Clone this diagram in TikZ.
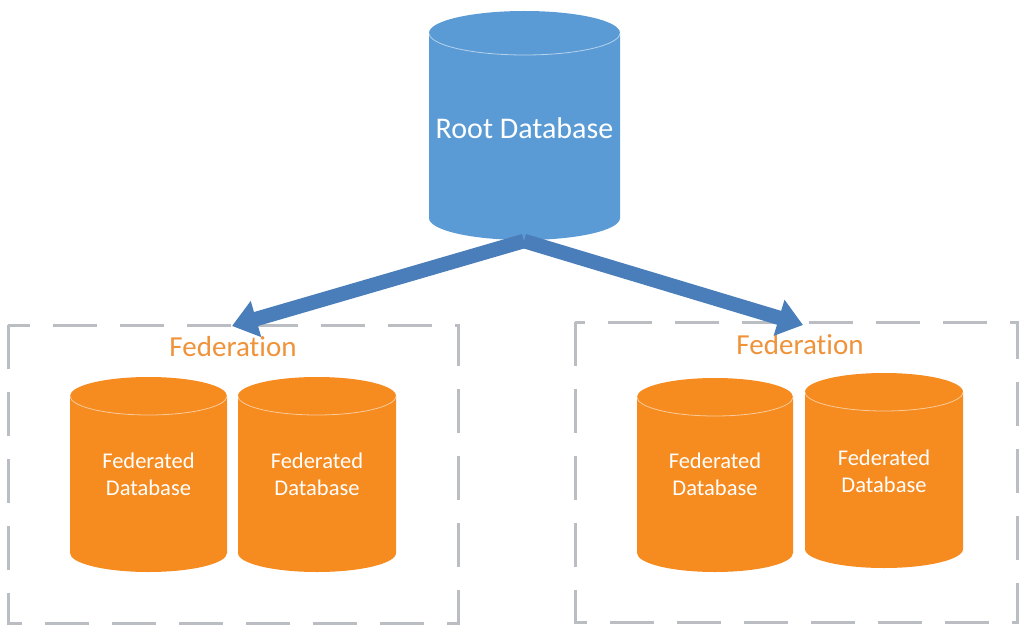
\documentclass[tikz,border=0pt]{standalone}
\usepackage{fontspec}
\setmainfont{Carlito}[RawFeature=-liga]
\usetikzlibrary{arrows.meta}
\definecolor{rootblue}{HTML}{5B9BD5}
\definecolor{arrowblue}{HTML}{4A7EBB}
\definecolor{fedorange}{HTML}{F68B1F}
\definecolor{fedtext}{HTML}{F0923A}
\definecolor{boxgray}{HTML}{BABDC2}
\newcommand{\dbcyl}[6]{%
  % #1 cx, #2 rx, #3 top centre y, #4 bottom centre y, #5 ry, #6 colour
  \fill[#6] (#1-#2,#3) -- (#1-#2,#4)
    arc[start angle=180,end angle=360,x radius=#2pt,y radius=#5pt]
    -- (#1+#2,#3)
    arc[start angle=0,end angle=180,x radius=#2pt,y radius=#5pt] -- cycle;
  \draw[white,opacity=0.55,line width=0.8pt] (#1-#2,#3)
    arc[start angle=180,end angle=360,x radius=#2pt,y radius=#5pt];
}
\tikzset{
  fedbox/.style={draw=boxgray,line width=3pt,dash pattern=on 44pt off 23pt},
  fedlabel/.style={text=fedtext,font=\fontsize{29}{34}\selectfont,inner sep=0pt},
  dbtext/.style={text=white,align=center,font=\fontsize{22.5}{27}\selectfont,inner sep=0pt},
  roottext/.style={text=white,font=\fontsize{30}{36}\selectfont,inner sep=0pt},
  bigarrow/.style={draw=arrowblue,line width=14.5pt,-{Triangle[width=36pt,length=25pt]}}
}
\begin{document}
\begin{tikzpicture}[x=1pt,y=1pt]
\useasboundingbox (0,0) rectangle (1019,625);
% federation boxes
\draw[fedbox] (8,300) rectangle (458,2);
\draw[fedbox] (575,303) rectangle (1017,3);
% root database
\dbcyl{524.5}{95.5}{592}{407}{22}{rootblue}
\node[roottext] (root) at (524.5,497) {Root Database};
\coordinate (apex) at (524,384);
% federation labels
\node[fedlabel] (fedL) at (233,278) {Federation};
\node[fedlabel] (fedR) at (800,280) {Federation};
\coordinate (tipL) at (232,299);
\coordinate (tipR) at (803,300);
% arrows
\draw[bigarrow] (apex) -- (tipL);
\draw[bigarrow] (apex) -- (tipR);
% federated databases
\dbcyl{148.5}{78.5}{229}{72}{19}{fedorange}
\dbcyl{317}{79}{229}{72}{19}{fedorange}
\dbcyl{715}{78}{228}{72}{19}{fedorange}
\dbcyl{884}{79}{233}{76}{19}{fedorange}
\node[dbtext] (db1) at (148.5,151) {Federated\\Database};
\node[dbtext] (db2) at (317,151) {Federated\\Database};
\node[dbtext] (db3) at (715,151) {Federated\\Database};
\node[dbtext] (db4) at (884,154) {Federated\\Database};
\end{tikzpicture}
\end{document}
